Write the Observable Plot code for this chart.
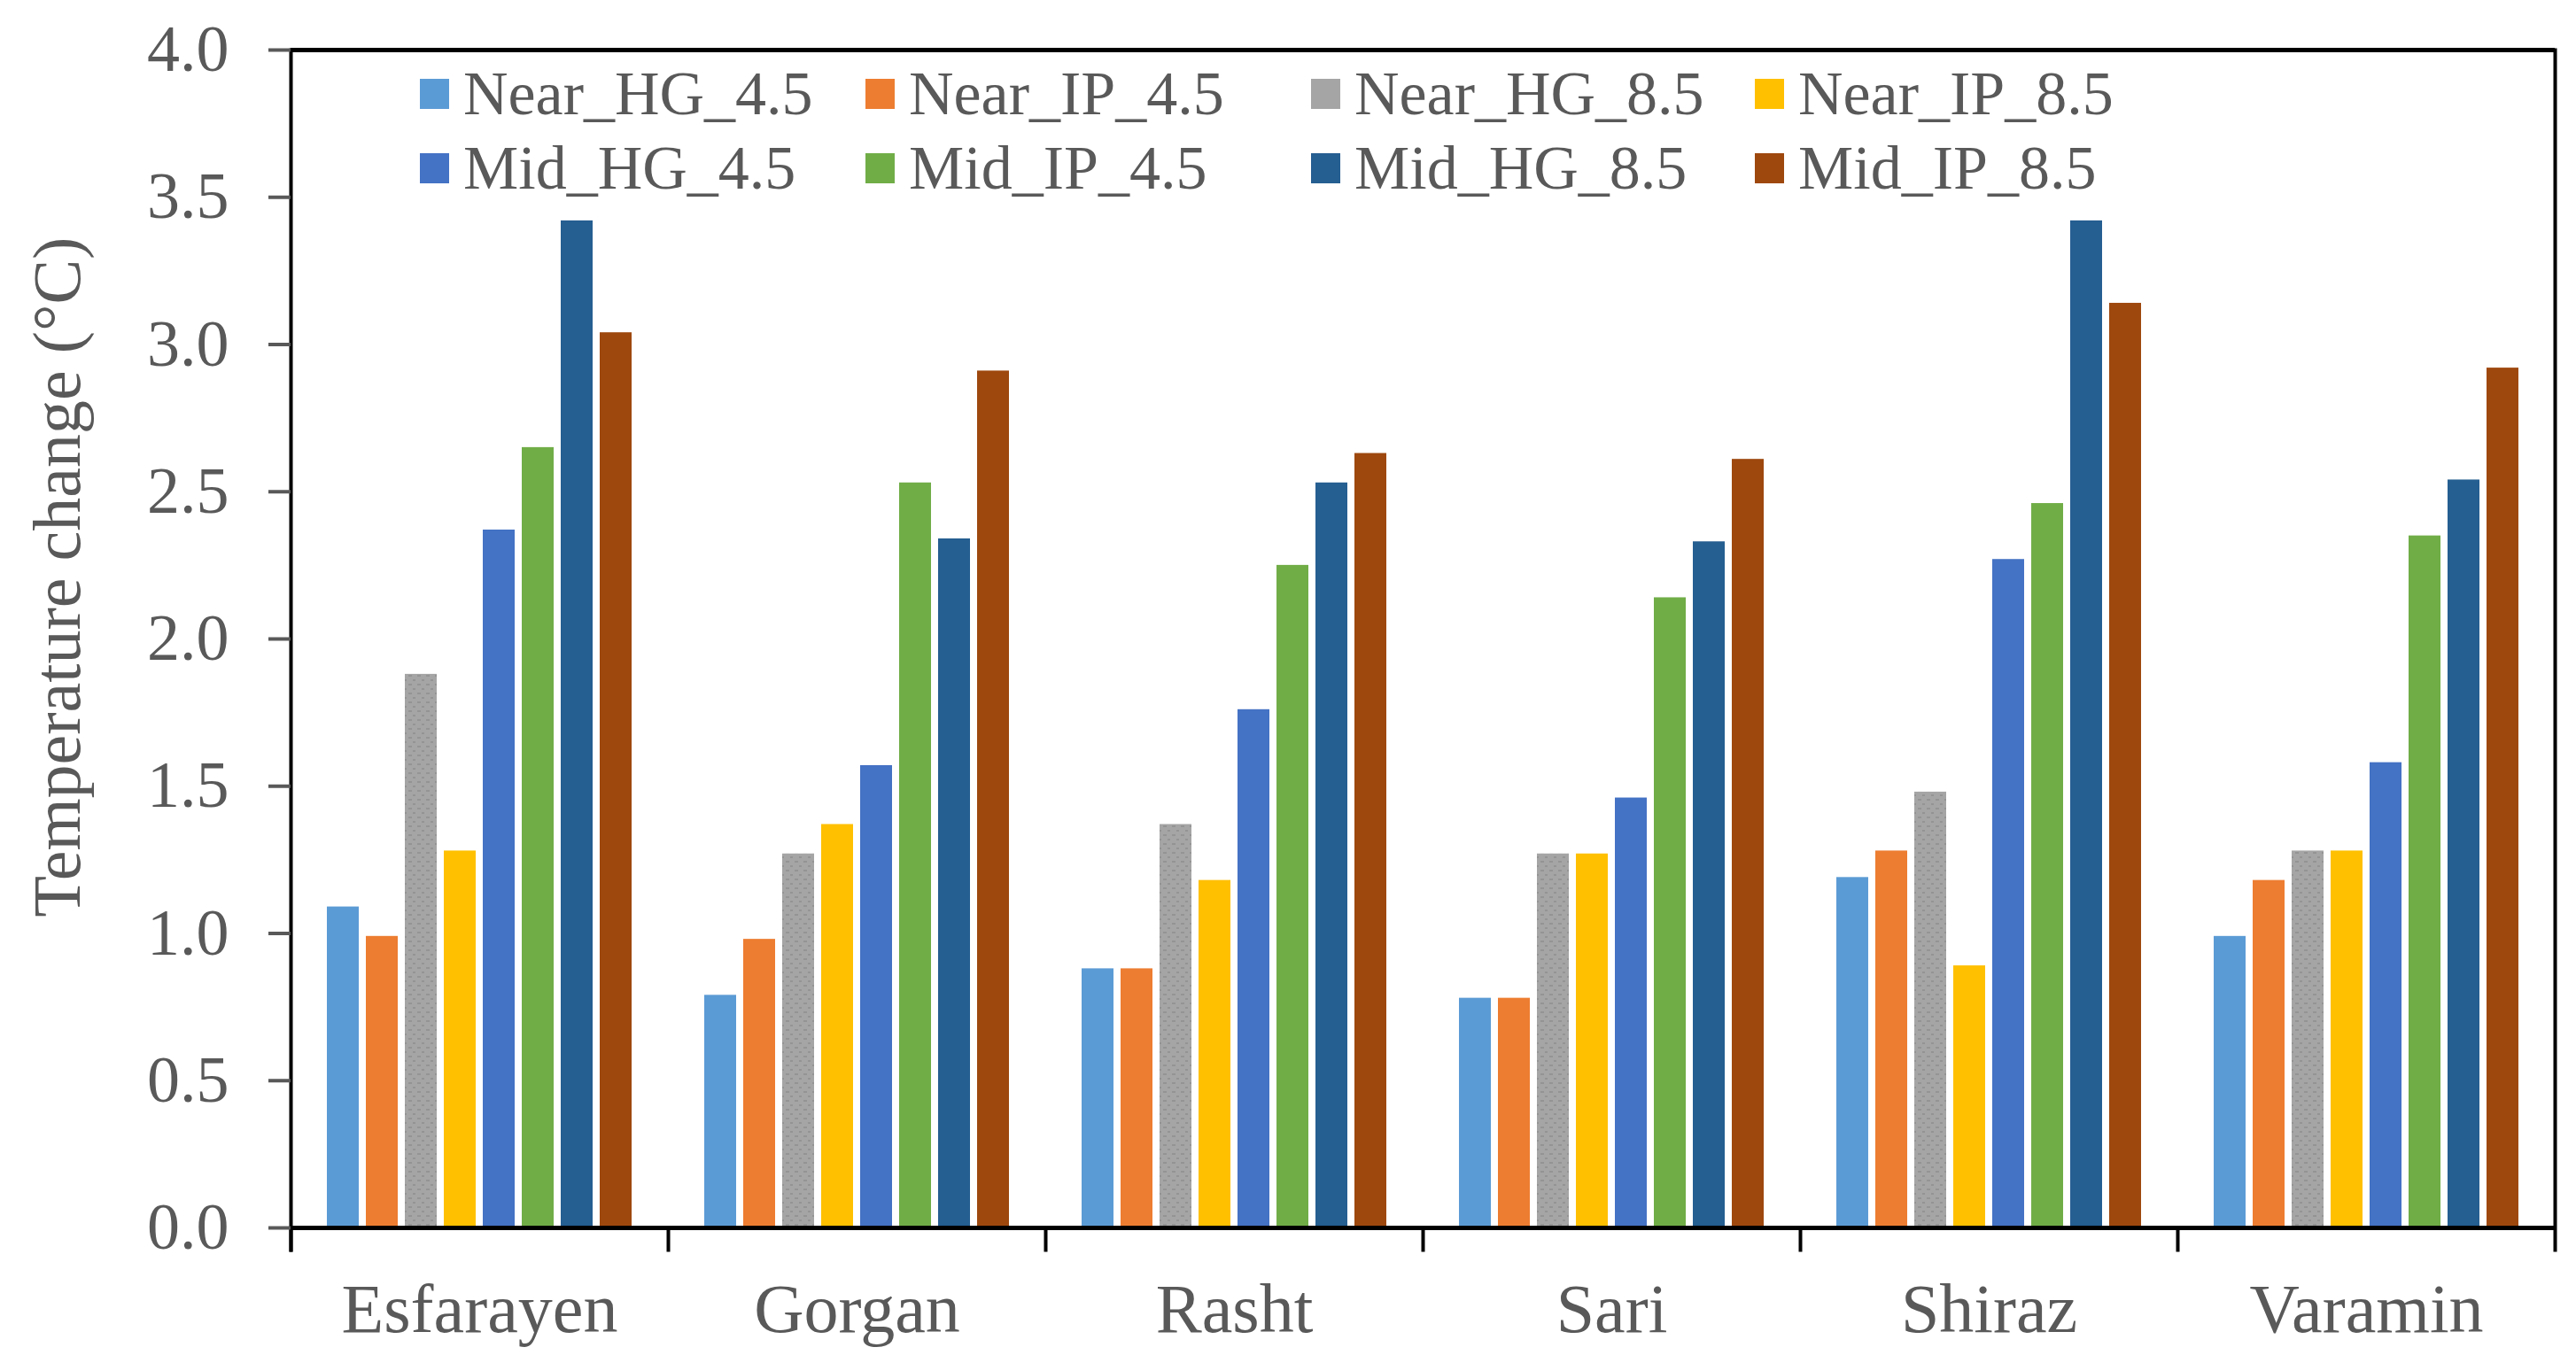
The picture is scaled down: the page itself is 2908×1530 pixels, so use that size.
<!DOCTYPE html>
<html><head><meta charset="utf-8">
<script src="https://cdn.jsdelivr.net/npm/d3@7"></script>
<script src="https://cdn.jsdelivr.net/npm/@observablehq/plot@0.6"></script>
<style>
body{margin:0;background:#fff;}
#wrap{position:relative;width:2908px;height:1530px;font-family:"Liberation Serif","Times New Roman",serif;}
.leg{position:absolute;display:flex;align-items:center;font-size:70px;line-height:1;color:#595959;white-space:nowrap;height:84px;}
.sw{width:33px;height:34px;margin-right:16px;flex:none;}
svg [aria-label="y-axis tick"]{stroke:#000;}
</style></head><body><div id="wrap"></div>
<script>
const cities = ["Esfarayen", "Gorgan", "Rasht", "Sari", "Shiraz", "Varamin"];
const series = ["Near_HG_4.5", "Near_IP_4.5", "Near_HG_8.5", "Near_IP_8.5", "Mid_HG_4.5", "Mid_IP_4.5", "Mid_HG_8.5", "Mid_IP_8.5"];
const colors = ["#5B9BD5", "#ED7D31", "url(#hg85)", "#FFC000", "#4472C4", "#70AD47", "#255E91", "#9E480E"];
const swatchColors = ["#5B9BD5", "#ED7D31", "#A5A5A5", "#FFC000", "#4472C4", "#70AD47", "#255E91", "#9E480E"];
// values per series, in city order
const nearHG45 = [1.09, 0.79, 0.88, 0.78, 1.19, 0.99];
const nearIP45 = [0.99, 0.98, 0.88, 0.78, 1.28, 1.18];
const nearHG85 = [1.88, 1.27, 1.37, 1.27, 1.48, 1.28];
const nearIP85 = [1.28, 1.37, 1.18, 1.27, 0.89, 1.28];
const midHG45  = [2.37, 1.57, 1.76, 1.46, 2.27, 1.58];
const midIP45  = [2.65, 2.53, 2.25, 2.14, 2.46, 2.35];
const midHG85  = [3.42, 2.34, 2.53, 2.33, 3.42, 2.54];
const midIP85  = [3.04, 2.91, 2.63, 2.61, 3.14, 2.92];
const yTicks = [0, 0.5, 1.0, 1.5, 2.0, 2.5, 3.0, 3.5, 4.0];
const yTitle = "Temperature change (°C)";

const valueSets = [nearHG45, nearIP45, nearHG85, nearIP85, midHG45, midIP45, midHG85, midIP85];
const data = cities.flatMap((c, i) => series.map((s, j) => ({city: c, series: s, value: valueSets[j][i]})));

const W = 2908, Ht = 1530, mL = 328, mR = 24, mT = 56, mB = 144;
const H = Ht - mT - mB;
const font = '"Liberation Serif", "Times New Roman", serif';

const plot = Plot.plot({
  width: W, height: Ht,
  marginLeft: mL, marginRight: mR, marginTop: mT, marginBottom: mB,
  style: {fontFamily: font, background: "white"},
  fx: {domain: cities, padding: 0, label: null},
  x: {domain: series, paddingInner: 0.19, paddingOuter: 0.88, axis: null},
  y: {domain: [0, 4], label: null},
  color: {domain: series, range: colors},
  marks: [
    Plot.barY(data, {fx: "city", x: "series", y: "value", fill: "series"}),
    Plot.ruleY([0], {stroke: "#000", strokeWidth: 5}),
    Plot.ruleY([4], {stroke: "#000", strokeWidth: 5}),
    Plot.frame({anchor: "left", insetTop: H, insetBottom: -25, stroke: "#000", strokeWidth: 4}),
    Plot.frame({anchor: "left", facetAnchor: "left", insetBottom: -25, stroke: "#000", strokeWidth: 4}),
    Plot.frame({anchor: "right", facetAnchor: "right", insetBottom: -25, stroke: "#000", strokeWidth: 4}),
    Plot.axisY({ticks: yTicks, tickFormat: d3.format(".1f"), tickSize: 25, tickPadding: 45, fontSize: 74, color: "#595959", strokeWidth: 4, label: null}),
    Plot.axisFx({anchor: "bottom", tickSize: 0, tickPadding: 62, fontSize: 78, color: "#595959", label: null}),
    Plot.text([yTitle], {text: d => d, frameAnchor: "left", facetAnchor: "left", rotate: -90, textAnchor: "middle", dx: -263, dy: -70, fontSize: 76, fill: "#595959"})
  ]
});

// dotted texture for Near_HG_8.5 bars
const svg = d3.select(plot);
const defs = svg.insert("defs", ":first-child");
const pat = defs.append("pattern").attr("id", "hg85").attr("patternUnits", "userSpaceOnUse").attr("width", 10).attr("height", 10);
pat.append("rect").attr("width", 10).attr("height", 10).attr("fill", "#A5A5A5");
pat.append("rect").attr("x", 1).attr("y", 2).attr("width", 4).attr("height", 2).attr("fill", "#949494");
pat.append("rect").attr("x", 6).attr("y", 7).attr("width", 3).attr("height", 2).attr("fill", "#949494");

const wrap = document.getElementById("wrap");
wrap.appendChild(plot);

// legend overlay inside the frame
const colX = [474, 977, 1480, 1981];
const rowTop = [64, 148];
series.forEach((s, i) => {
  const item = document.createElement("div");
  item.className = "leg";
  item.style.left = colX[i % 4] + "px";
  item.style.top = rowTop[Math.floor(i / 4)] + "px";
  const sw = document.createElement("div");
  sw.className = "sw";
  sw.style.background = swatchColors[i];
  const t = document.createElement("span");
  t.textContent = s;
  item.appendChild(sw); item.appendChild(t);
  wrap.appendChild(item);
});
</script></body></html>
